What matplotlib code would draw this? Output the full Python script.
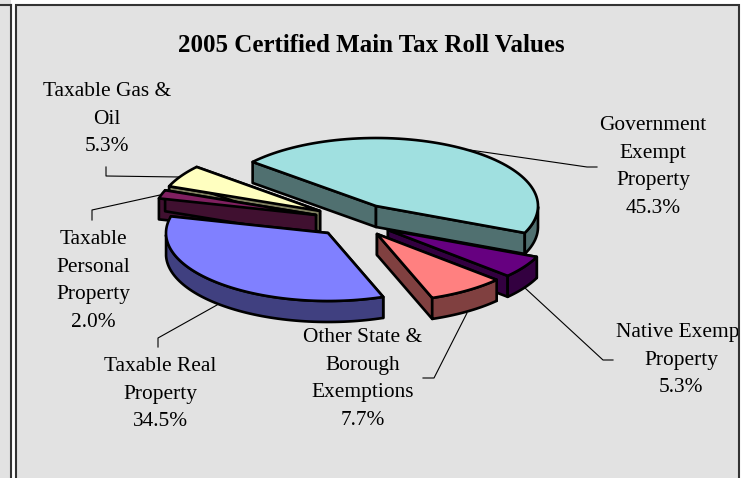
import numpy as np
import matplotlib
matplotlib.use("Agg")
import matplotlib.pyplot as plt
from matplotlib.patches import Polygon, Rectangle

# ---- data ----
names = ["Government\nExempt\nProperty", "Native Exempt\nProperty",
         "Other State &\nBorough\nExemptions", "Taxable Real\nProperty",
         "Taxable\nPersonal\nProperty", "Taxable Gas &\nOil"]
values = [45.3, 5.3, 7.7, 34.5, 2.0, 5.3]

# ---- style / layout ----
top_cols = ["#A0E0E0", "#660080", "#FF8080", "#8080FF", "#802060", "#FFFFC0"]
side_cols = ["#507070", "#330040", "#804040", "#404080", "#401030", "#808060"]
apexes = [(376, 206), (388, 230), (377, 234), (328, 233), (316, 215), (320, 211)]
draw_order = [0, 5, 4, 1, 3, 2]
label_pos = [(653, 167), (681, 360), (363, 379), (160, 394), (93, 281), (107, 119)]
leaders = [
    [(470, 150), (587, 167), (597, 167)],
    [(525, 288), (603, 360), (613, 360)],
    [(467, 313), (434, 378), (423, 378)],
    [(217, 305), (158, 338), (158, 347)],
    [(160, 195), (92, 210), (92, 220)],
    [(180, 177), (106, 176), (106, 167)],
]
RX, RY, DEPTH, START = 162, 68, 21, 139.6

fig = plt.figure(figsize=(7.51, 4.78), dpi=100, facecolor="white")
ax = fig.add_axes([0, 0, 1, 1])
ax.set_xlim(0, 751)
ax.set_ylim(478, 0)
ax.axis("off")
plt.rcParams["font.family"] = ["Liberation Serif"]

# background and frame
ax.add_patch(Rectangle((0, 0), 11, 478, fc="#E2E2E2", ec="none", zorder=0))
ax.add_patch(Rectangle((15.5, 4.5), 723, 480, fc="#E2E2E2", ec="#333333", lw=1.5, zorder=0))
ax.plot([11, 11], [4.5, 478], color="#333333", lw=1.5, zorder=0)
ax.plot([0, 11], [4.5, 4.5], color="#333333", lw=1.5, zorder=0)
clip = Rectangle((0, 0), 738, 478, transform=ax.transData)

def pt(apex, deg, depth=0):
    t = np.radians(deg)
    return apex[0] + RX * np.cos(t), apex[1] - RY * np.sin(t) + depth

edge = dict(edgecolor="black", lw=1.9, joinstyle="round")
angles = START - np.cumsum([0] + [v / sum(values) * 360 for v in values])
z = 2
for i in draw_order:
    a0, a1 = angles[i], angles[i + 1]
    ap = apexes[i]
    arc = np.linspace(a0, a1, 80)
    for a in (a0, a1):
        p = pt(ap, a)
        quad = [ap, p, (p[0], p[1] + DEPTH), (ap[0], ap[1] + DEPTH)]
        ax.add_patch(Polygon(quad, fc=side_cols[i], zorder=z, **edge))
    # outer rim, front half only
    t = arc[np.sin(np.radians(arc)) <= 0]
    if len(t) > 1:
        upper = [pt(ap, a) for a in t]
        lower = [pt(ap, a, DEPTH) for a in t[::-1]]
        ax.add_patch(Polygon(upper + lower, fc=side_cols[i], zorder=z, **edge))
    ax.add_patch(Polygon([ap] + [pt(ap, a) for a in arc], fc=top_cols[i], zorder=z, **edge))
    z += 1

# leader lines
for path in leaders:
    xs, ys = zip(*path)
    ax.plot(xs, ys, color="black", lw=0.8, zorder=1)

# labels
ax.text(371, 45, "2005 Certified Main Tax Roll Values", ha="center", va="center",
        fontsize=18, fontweight="bold", color="black")
for name, v, (x, y) in zip(names, values, label_pos):
    t = ax.text(x, y, f"{name}\n{v:.1f}%", ha="center", va="center", fontsize=15.4,
                linespacing=1.62, color="black", zorder=20)
    t.set_clip_path(clip)
    t.set_clip_on(True)

fig.savefig("out.png", dpi=100)
